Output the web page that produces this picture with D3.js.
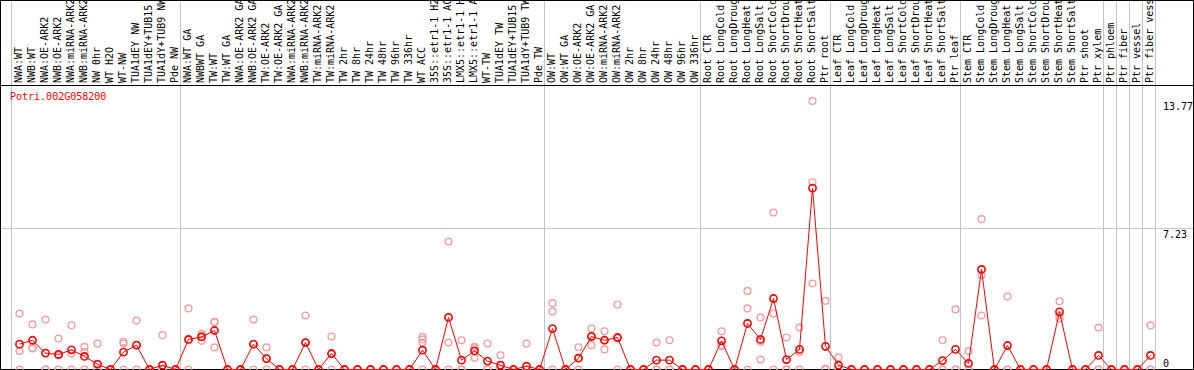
<!DOCTYPE html>
<html>
<head>
<meta charset="utf-8">
<script src="https://cdn.jsdelivr.net/npm/d3@7"></script>
<style>
    html, body { margin: 0; padding: 0; background: #fff; }
    svg { display: block; }
    text { font-family: "DejaVu Sans Mono", "Liberation Mono", monospace; font-size: 10px; }
</style>
</head>
<body>
<div id="vis-container"></div>
<script>
const gene = "Potri.002G058200";

const samples = [
    "NWA:WT", "NWB:WT", "NWA:OE-ARK2", "NWB:OE-ARK2", "NWA:miRNA-ARK2", "NWB:miRNA-ARK2",
    "NW 0hr", "WT H2O", "WT-NW", "TUA1dEY NW", "TUA1dEY+TUB15", "TUA1dY+TUB9 NW", "Pde NW",
    "NWA:WT GA", "NWBWT GA", "TW:WT", "TW:WT GA", "NWA:OE-ARK2 GA", "NWB:OE-ARK2 GA",
    "TW:OE-ARK2", "TW:OE-ARK2 GA", "NWA:miRNA-ARK2", "NWB:miRNA-ARK2", "TW:miRNA-ARK2",
    "TW:miRNA-ARK2", "TW 2hr", "TW 8hr", "TW 24hr", "TW 48hr", "TW 96hr", "TW 336hr",
    "WT ACC", "35S::etr1-1 H2O", "35S::etr1-1 ACC", "LMX5::etr1-1 H2O", "LMX5::etr1-1 ACC",
    "WT-TW", "TUA1dEY TW", "TUA1dEY+TUB15", "TUA1dY+TUB9 TW", "Pde TW",
    "OW:WT", "OW:WT GA", "OW:OE-ARK2", "OW:OE-ARK2 GA", "OW:miRNA-ARK2", "OW:miRNA-ARK2",
    "OW 2hr", "OW 8hr", "OW 24hr", "OW 48hr", "OW 96hr", "OW 336hr",
    "Root CTR", "Root LongCold", "Root LongDrought", "Root LongHeat", "Root LongSalt",
    "Root ShortCold", "Root ShortDrought", "Root ShortHeat", "Root ShortSalt", "Ptr root",
    "Leaf CTR", "Leaf LongCold", "Leaf LongDrought", "Leaf LongHeat", "Leaf LongSalt",
    "Leaf ShortCold", "Leaf ShortDrought", "Leaf ShortHeat", "Leaf ShortSalt", "Ptr leaf",
    "Stem CTR", "Stem LongCold", "Stem LongDrought", "Stem LongHeat", "Stem LongSalt",
    "Stem ShortCold", "Stem ShortDrought", "Stem ShortHeat", "Stem ShortSalt", "Ptr shoot", "Ptr xylem",
    "Ptr phloem", "Ptr fiber", "Ptr vessel", "Ptr fiber vessel"
];

// number of samples in each block between the grey separators
const groupSizes = [13, 28, 12, 10, 10, 11, 1, 1, 1, 1];

const means = [
    1.30, 1.50, 0.84, 0.77, 1.01, 0.67, 0.27, 0, 0.89, 1.25, 0, 0.22, 0,
    1.54, 1.67, 2.00, 0, 0, 1.30, 0.56, 0, 0, 1.38, 0, 0.82, 0, 0, 0, 0, 0, 0,
    0.99, 0, 2.67, 0.48, 0.95, 0.43, 0.22, 0, 0.17, 0,
    2.10, 0, 0.58, 1.69, 1.50, 1.64, 0, 0, 0.48, 0.48, 0, 0,
    0, 1.47, 0, 2.36, 1.54, 3.64, 0.51, 1.03, 9.30, 1.19,
    0.22, 0, 0, 0, 0, 0, 0, 0, 0.46, 1.03,
    0.31, 5.13, 0, 1.23, 0, 0, 0, 2.96, 0, 0, 0.72,
    0, 0, 0, 0.72
];

const replicates = [
    [2.87, 0.95, 0], [2.31, 1.08, 1.12], [2.56, 0, 0], [1.59, 0.72, 0], [2.27, 0.82, 0],
    [1.16, 0.90, 0], [1.33, 0, 0], [0, 0, 0], [1.42, 1.33, 0], [2.51, 1.24, 0],
    [0, 0, 0], [1.76, 0, 0], [0, 0, 0],
    [3.13, 1.50, 0], [1.83, 1.72, 1.47], [2.44, 2.43, 1.13], [0, 0, 0], [0, 0, 0],
    [2.56, 1.30, 0], [1.13, 0.56, 0], [0, 0, 0], [0, 0, 0], [2.77, 1.38, 0], [0, 0, 0],
    [1.69, 0.77, 0], [0, 0, 0], [0, 0, 0], [0, 0, 0], [0, 0, 0], [0, 0, 0], [0, 0, 0],
    [1.67, 1.54, 1.38, 0], [0, 0, 0], [6.56, 1.38, 0], [1.50, 0, 0], [1.16, 1.09, 0.60],
    [1.33, 0, 0], [0.73, 0, 0], [0, 0, 0], [1.33, 0, 0], [0, 0, 0],
    [3.40, 2.97, 0], [0, 0, 0], [1.14, 0.60, 0], [2.10, 1.72, 1.25], [1.96, 1.50, 1.03],
    [3.33, 1.60, 0], [0, 0, 0], [0, 0, 0], [1.38, 0, 0], [1.50, 0, 0], [0, 0, 0], [0, 0, 0],
    [0, 0, 0], [1.96, 1.25, 1.20], [0, 0, 0], [4.03, 3.13, 0], [2.67, 1.42, 0.51],
    [8.05, 2.87, 0], [1.64, 0, 0], [2.15, 0.90, 0], [13.77, 9.60, 4.41], [3.52, 0.05, 0],
    [0.62, 0, 0], [0, 0, 0], [0, 0, 0], [0, 0, 0], [0, 0, 0], [0, 0, 0], [0, 0, 0],
    [0, 0, 0], [1.50, 0, 0], [3.08, 0, 0],
    [0.94, 0, 0], [7.71, 4.84, 2.77], [0, 0, 0], [3.74, 0, 0], [0, 0, 0], [0, 0, 0],
    [0, 0, 0], [3.50, 2.78, 2.61], [0, 0, 0], [0, 0, 0], [2.15, 0, 0],
    [0, 0, 0], [0, 0, 0], [0, 0, 0], [2.26, 0, 0]
];

const yTicks = [0, 7.23, 13.77];

const width = 1194,
    height = 370,
    colW = 13,
    left = 11,
    headerH = 85,
    zeroY = 369.5,
    grey = "#c4c4c4";

let svg = d3.select("#vis-container")
    .append("svg")
    .attr("width", width)
    .attr("height", height);

// header labels are cut at the top frame like in the original
svg.append("clipPath")
    .attr("id", "header-clip")
    .append("rect")
    .attr("x", 0).attr("y", 1)
    .attr("width", width).attr("height", headerH - 1);

let x = d3.scaleBand()
    .domain(d3.range(samples.length))
    .range([left, left + colW * samples.length])
    .padding(0);

let y = d3.scaleLinear()
    .domain([0, d3.max(yTicks)])
    .range([zeroY, zeroY - 13.77 * 19.5]);

let cx = i => x(i) + 8.5;
let edge = k => left + colW * k + 0.5;

// group separators
let bounds = [0];
groupSizes.forEach(n => bounds.push(bounds[bounds.length - 1] + n));

svg.append("g")
    .selectAll("line")
    .data(bounds)
    .enter().append("line")
    .attr("x1", d => edge(d))
    .attr("x2", d => edge(d))
    .attr("y1", 0)
    .attr("y2", zeroY)
    .attr("stroke", grey)
    .attr("stroke-width", 1);

// horizontal grid at the middle tick
svg.append("g")
    .selectAll("line")
    .data(yTicks.filter(d => d > 0 && d < d3.max(yTicks)))
    .enter().append("line")
    .attr("x1", 0)
    .attr("x2", width)
    .attr("y1", d => Math.round(y(d)) - 0.5)
    .attr("y2", d => Math.round(y(d)) - 0.5)
    .attr("stroke", grey);

// header rule and frame
svg.append("line")
    .attr("x1", 0).attr("x2", width)
    .attr("y1", headerH + 0.5).attr("y2", headerH + 0.5)
    .attr("stroke", "#000");
svg.append("rect")
    .attr("x", 0.5).attr("y", 0.5)
    .attr("width", width - 1).attr("height", zeroY - 0.5)
    .attr("fill", "none")
    .attr("stroke", "#000");

// sample labels, rotated, reading upwards
svg.append("g")
    .attr("clip-path", "url(#header-clip)")
    .selectAll("text")
    .data(samples)
    .enter().append("text")
    .attr("transform", (d, i) => `translate(${x(i) + 11},${headerH - 2}) rotate(-90)`)
    .attr("fill", "#000")
    .text(d => d);

// y tick labels at the right
svg.append("g")
    .selectAll("text")
    .data(yTicks)
    .enter().append("text")
    .attr("x", left + colW * samples.length + 8)
    .attr("y", d => d === 0 ? y(d) - 3 : y(d) + 9)
    .attr("fill", "#000")
    .text(d => d);

svg.append("text")
    .attr("x", 10)
    .attr("y", 99.5)
    .attr("fill", "#ff0000")
    .text(gene);

// replicate values
let repPoints = [];
replicates.forEach((r, i) => r.forEach(v => repPoints.push({i: i, v: v})));

svg.append("g")
    .selectAll("circle")
    .data(repPoints)
    .enter().append("circle")
    .attr("cx", d => cx(d.i))
    .attr("cy", d => y(d.v))
    .attr("r", 3.4)
    .attr("fill", "none")
    .attr("stroke", "#f0a0a0")
    .attr("stroke-width", 1.4);

// mean line and points
let line = d3.line()
    .x((d, i) => cx(i))
    .y(d => y(d));

svg.append("path")
    .datum(means)
    .attr("d", line)
    .attr("fill", "none")
    .attr("stroke", "#ff0000")
    .attr("stroke-width", 1);

svg.append("g")
    .selectAll("circle")
    .data(means)
    .enter().append("circle")
    .attr("cx", (d, i) => cx(i))
    .attr("cy", d => y(d))
    .attr("r", 3.6)
    .attr("fill", "none")
    .attr("stroke", "#ff0000")
    .attr("stroke-width", 1.6);
</script>
</body>
</html>
